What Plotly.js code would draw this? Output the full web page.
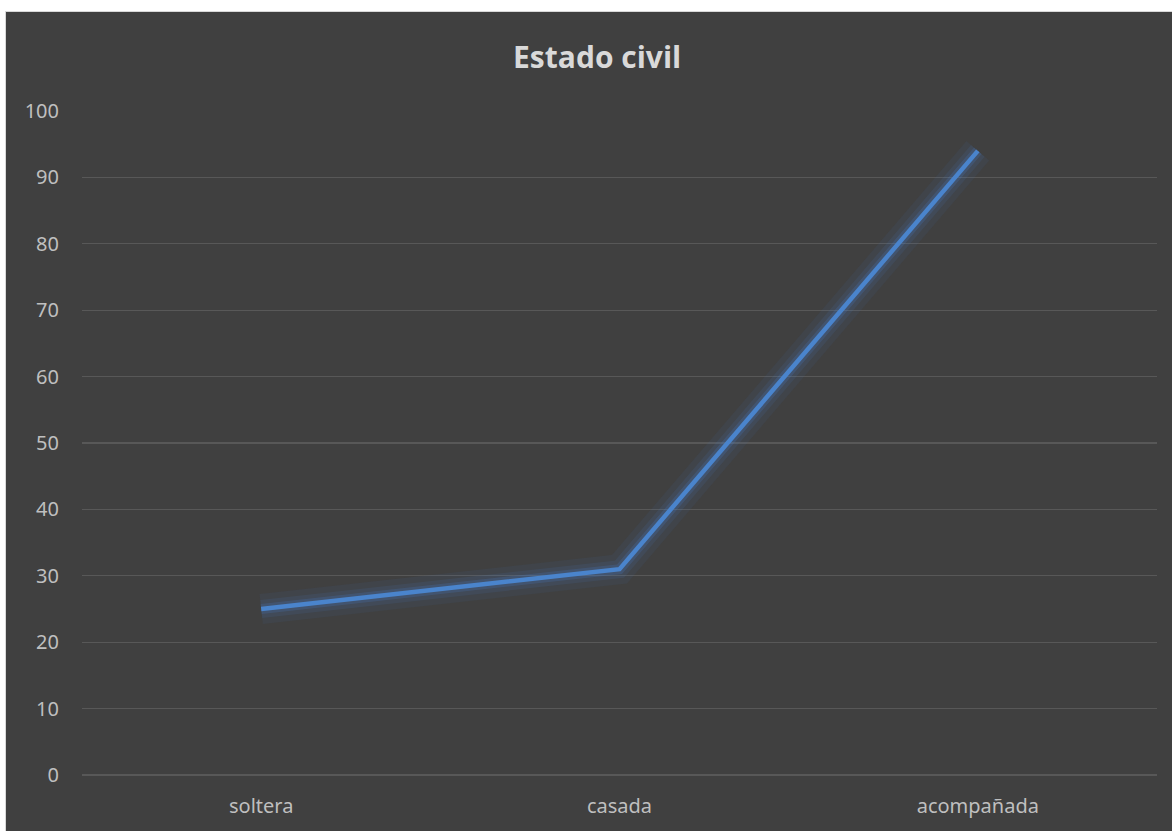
<!DOCTYPE html>
<html>
<head>
<meta charset="utf-8">
<script src="https://cdn.plot.ly/plotly-3.0.1.min.js"></script>
<style>
html,body{margin:0;padding:0;background:#ffffff;width:1172px;height:831px;overflow:hidden;}
#wrap{position:absolute;left:5px;top:11px;width:1167px;height:820px;border-left:1px solid #d9d9d9;border-top:1px solid #d9d9d9;}
#chart{width:1166px;height:819px;}
</style>
</head>
<body>
<div id="wrap"><div id="chart"></div></div>
<script>
const categories = ["soltera", "casada", "acompañada"];
const values = [25, 31, 94];
const yTicks = [0, 10, 20, 30, 40, 50, 60, 70, 80, 90, 100];

const glowOuter = {
  x: categories, y: values, type: "scatter", mode: "lines",
  line: {color: "rgba(70,120,190,0.08)", width: 30},
  hoverinfo: "skip", showlegend: false
};
const glowMid = {
  x: categories, y: values, type: "scatter", mode: "lines",
  line: {color: "rgba(70,120,190,0.12)", width: 18},
  hoverinfo: "skip", showlegend: false
};
const glowInner = {
  x: categories, y: values, type: "scatter", mode: "lines",
  line: {color: "rgba(75,125,195,0.22)", width: 10},
  hoverinfo: "skip", showlegend: false
};
const main = {
  x: categories, y: values, type: "scatter", mode: "lines",
  line: {color: "#4a84cc", width: 4.5},
  showlegend: false
};

const layout = {
  width: 1166, height: 819,
  paper_bgcolor: "#404040", plot_bgcolor: "#404040",
  margin: {l: 76, r: 15, t: 99, b: 56},
  title: {
    text: "<b>Estado civil</b>",
    font: {family: "Open Sans, Noto Sans, sans-serif", size: 30, color: "#d9d9d9"},
    x: 0.507, xanchor: "center", y: 0.945, yanchor: "middle"
  },
  xaxis: {
    type: "category", range: [-0.5, 2.5],
    showgrid: false, zeroline: false, showline: false, ticks: "",
    tickfont: {family: "Noto Sans, Open Sans, sans-serif", size: 20, color: "#bfbfbf"},
    ticklabelstandoff: 17
  },
  yaxis: {
    range: [0, 100], tickvals: yTicks, ticktext: yTicks.map(String),
    showgrid: true, gridcolor: "#585858", gridwidth: 1.3,
    zeroline: true, zerolinecolor: "#585858", zerolinewidth: 1.3,
    showline: false, ticks: "",
    tickfont: {family: "Noto Sans, Open Sans, sans-serif", size: 20, color: "#bfbfbf"},
    ticklabelstandoff: 22
  },
  font: {family: "Noto Sans, sans-serif"}
};

Plotly.newPlot("chart", [glowOuter, glowMid, glowInner, main], layout, {displayModeBar: false, staticPlot: true});
</script>
</body>
</html>
